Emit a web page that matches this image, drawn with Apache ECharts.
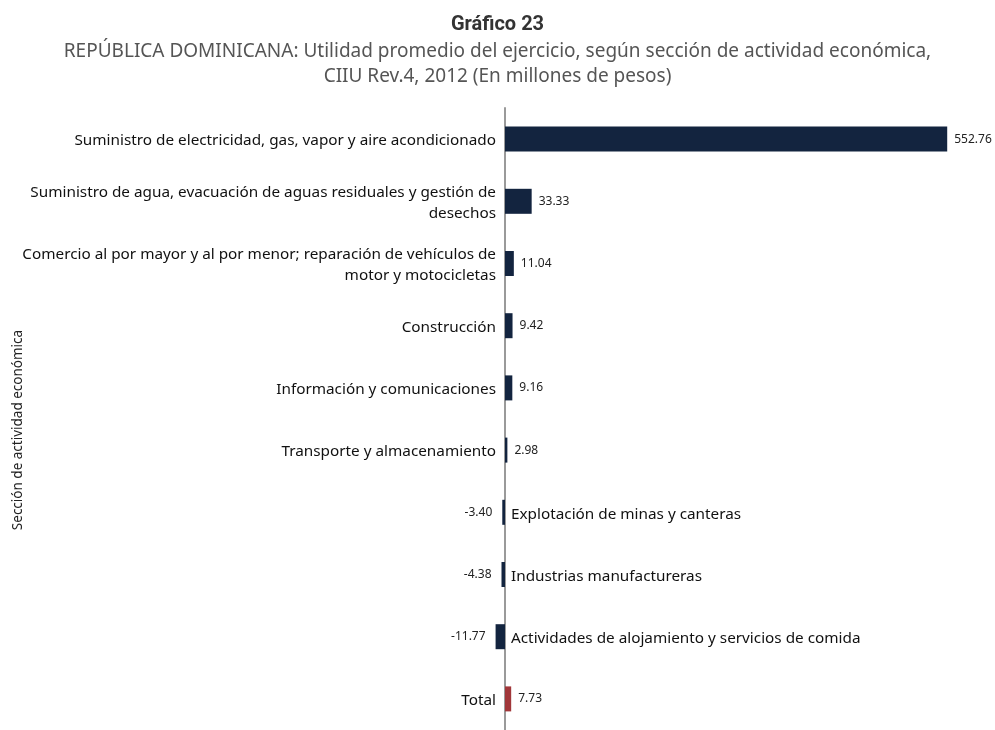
<!DOCTYPE html>
<html>
<head>
<meta charset="utf-8">
<script src="https://cdn.jsdelivr.net/npm/echarts@6/dist/echarts.min.js"></script>
<style>
  html, body { margin: 0; padding: 0; background: #fff; }
  #chart { width: 995px; height: 730px; }
</style>
</head>
<body>
<div id="chart"></div>
<script>
// Gráfico 23 - utilidad promedio por sección CIIU
var categories = [
  'Suministro de electricidad, gas, vapor y aire acondicionado',
  'Suministro de agua, evacuación de aguas residuales y gestión de\ndesechos',
  'Comercio al por mayor y al por menor; reparación de vehículos de\nmotor y motocicletas',
  'Construcción',
  'Información y comunicaciones',
  'Transporte y almacenamiento',
  'Explotación de minas y canteras',
  'Industrias manufactureras',
  'Actividades de alojamiento y servicios de comida',
  'Total'
]
var values = [552.76, 33.33, 11.04, 9.42, 9.16, 2.98, -3.40, -4.38, -11.77, 7.73]
var totalName = 'Total'

var navy = '#13243f'
var red = '#a1373a'

var chart = echarts.init(document.getElementById('chart'))

var barData = values.map(function (v, i) {
  var neg = v < 0
  return {
    value: v,
    itemStyle: { color: categories[i] === totalName ? red : navy },
    label: {
      position: neg ? 'left' : 'right',
      distance: neg ? 10 : 7
    }
  }
})

// zero-width bars that carry the category names next to the axis line
var nameData = values.map(function (v) {
  var neg = v < 0
  return {
    value: 0,
    label: {
      position: neg ? 'right' : 'left',
      distance: neg ? 6 : 9,
      align: neg ? 'left' : 'right'
    }
  }
})

var subStyle = {
  fontFamily: 'Noto Sans',
  fontWeight: 'normal',
  fontSize: 19,
  color: '#555'
}

chart.setOption({
  animation: false,
  title: [
    {
      text: 'Gráfico 23',
      left: 'center',
      top: 10,
      textStyle: {
        fontFamily: 'Roboto',
        fontWeight: 'bold',
        fontSize: 20,
        color: '#333'
      }
    },
    {
      text: 'REPÚBLICA DOMINICANA: Utilidad promedio del ejercicio, según sección de actividad económica,',
      left: 'center',
      top: 42,
      padding: 0,
      textStyle: subStyle
    },
    {
      text: 'CIIU Rev.4, 2012 (En millones de pesos)',
      left: 'center',
      top: 67,
      padding: 0,
      textStyle: subStyle
    }
  ],
  graphic: [
    {
      type: 'text',
      x: 18,
      y: 430,
      rotation: Math.PI / 2,
      style: {
        text: 'Sección de actividad económica',
        font: '13.5px "Noto Sans"',
        fill: '#222',
        align: 'center',
        verticalAlign: 'middle'
      }
    }
  ],
  grid: {
    left: 489,
    right: 42,
    top: 108,
    height: 626
  },
  xAxis: {
    type: 'value',
    min: -20,
    max: 560,
    show: false
  },
  yAxis: {
    type: 'category',
    data: categories,
    inverse: true,
    axisLine: {
      onZero: true,
      lineStyle: { color: '#9a9a9a', width: 2 }
    },
    axisTick: {
      alignWithLabel: true,
      length: 4,
      lineStyle: { color: '#9a9a9a' }
    },
    axisLabel: { show: false },
    splitLine: { show: false }
  },
  series: [
    {
      type: 'bar',
      data: barData,
      barWidth: 25,
      barGap: '-100%',
      z: 3,
      label: {
        show: true,
        fontFamily: 'Noto Sans',
        fontSize: 12,
        color: '#222',
        formatter: function (p) { return p.value.toFixed(2) }
      }
    },
    {
      type: 'bar',
      data: nameData,
      barWidth: 25,
      barGap: '-100%',
      itemStyle: { color: 'transparent' },
      silent: true,
      label: {
        show: true,
        fontFamily: 'Noto Sans',
        fontSize: 15.3,
        lineHeight: 21,
        offset: [0, 2],
        color: '#111',
        formatter: '{b}'
      }
    }
  ]
})
</script>
</body>
</html>
